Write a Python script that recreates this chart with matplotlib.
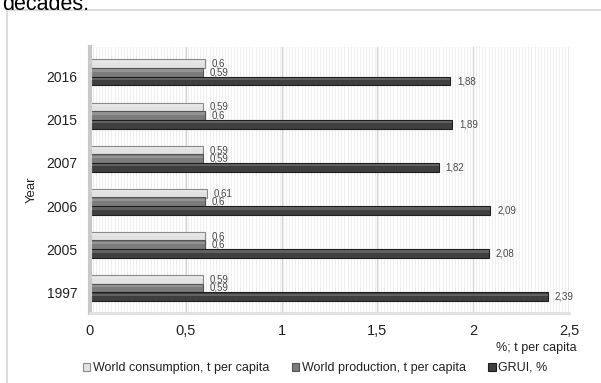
import numpy as np
import matplotlib.pyplot as plt
from matplotlib.patches import Rectangle

plt.rcParams["font.family"] = ["Liberation Sans", "DejaVu Sans"]

years = ["2016", "2015", "2007", "2006", "2005", "1997"]
consumption = [0.6, 0.59, 0.59, 0.61, 0.6, 0.59]
production = [0.59, 0.6, 0.59, 0.6, 0.6, 0.59]
grui = [1.88, 1.89, 1.82, 2.09, 2.08, 2.39]

series = [
    ("World consumption, t per capita", consumption, "#e2e2e2", "#8a8a8a"),
    ("World production, t per capita", production, "#7c7c7c", "#555555"),
    ("GRUI, %", grui, "#3f3f3f", "#1e1e1e"),
]

W, H = 601, 383
fig = plt.figure(figsize=(W / 100, H / 100), dpi=100)
fig.patch.set_facecolor("white")

# outer frame of the chart object
fig.patches.append(Rectangle((7 / W, -0.05), 1.1, 1 - 10 / H + 0.05,
                             transform=fig.transFigure, fill=False,
                             edgecolor="#d6d6d6", linewidth=1.2))
# caption line running off the top edge
fig.text(2 / W, 1 - 10 / H, "decades.", fontsize=15.5, color="black",
         va="baseline", ha="left")

ax = fig.add_axes([90 / W, 1 - 313 / H, 479 / W, 266 / H])

# fine vertical stripe texture of the wall
for x in np.arange(0.0, 2.5, 0.016):
    ax.axvline(x, color="#efefef", linewidth=0.8, zorder=0)
for x in [0.5, 1.0, 1.5, 2.0, 2.5]:
    ax.axvline(x, color="#d4d4d4", linewidth=0.9, zorder=0.5)

ypos = np.arange(len(years))
bh = 0.205
offsets = [-0.3, -0.1, 0.1]
for (name, vals, face, edge), off in zip(series, offsets):
    ax.barh(ypos + off, vals, height=bh, color=face, edgecolor=edge,
            linewidth=0.8, label=name, zorder=2)
    # lighter strip along the top of each bar
    ax.barh(ypos + off - bh * 0.22, vals, height=bh * 0.25, color="white",
            alpha=0.18, linewidth=0, zorder=3)
    for y, v in zip(ypos, vals):
        ax.text(v + 0.035, y + off, f"{v:g}".replace(".", ","), fontsize=7,
                color="#4a4a4a", va="center", ha="left", zorder=4)

ax.set_xlim(0, 2.5)
ax.set_ylim(5.48, -0.69)
ax.set_yticks(ypos)
ax.set_yticklabels(years, fontsize=10, color="#222222")
ax.set_xticks([0, 0.5, 1, 1.5, 2, 2.5])
ax.set_xticklabels(["0", "0,5", "1", "1,5", "2", "2,5"], fontsize=10.5,
                   color="#222222")
ax.tick_params(length=0, pad=8)
ax.tick_params(axis="y", pad=9)
for s in ["top", "right"]:
    ax.spines[s].set_visible(False)
ax.spines["left"].set_color("#c8c8c8")
ax.spines["left"].set_linewidth(3)
ax.spines["bottom"].set_color("#e0e0e0")
ax.spines["bottom"].set_linewidth(2)

fig.text(32 / W, 1 - 190 / H, "Year", rotation=90, fontsize=9.5,
         color="#222222", ha="center", va="center")
fig.text(577 / W, 1 - 348 / H, "%; t per capita", fontsize=9,
         color="#222222", ha="right", va="center")

fig.legend(loc="center", bbox_to_anchor=(315 / W, 1 - 368 / H), ncol=3,
           frameon=False, fontsize=9, handlelength=0.6, handleheight=0.6,
           handletextpad=0.2, columnspacing=1.8, labelcolor="#222222")

fig.savefig("out.png", dpi=100)
